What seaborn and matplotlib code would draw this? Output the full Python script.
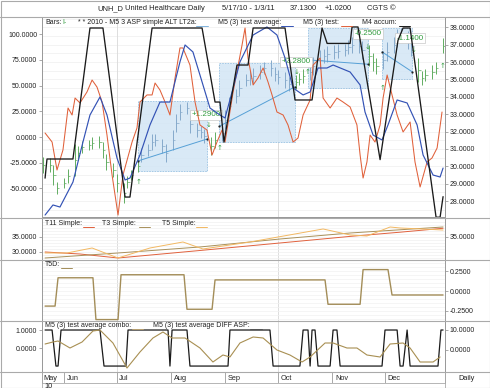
import numpy as np
import pandas as pd
import matplotlib
matplotlib.use("Agg")
import matplotlib.pyplot as plt
import matplotlib.dates as mdates
from matplotlib.patches import Rectangle
from matplotlib.lines import Line2D
from matplotlib.ticker import FormatStrFormatter
import seaborn as sns

sns.set_theme(style="white")
plt.rcParams["font.family"] = ["Liberation Sans", "DejaVu Sans"]
FS = 5.0

BASE = pd.Timestamp("2010-06-01")
def days(a):
    return BASE + pd.to_timedelta(np.atleast_1d(np.asarray(a, dtype=float)), unit="D")

# ---------------- data (x = day offsets from 2010-06-01) ----------------
# price bars (every second trading day)
bar_mid = [30.07, 30.07, 29.50, 28.75, 29.04, 29.44, 30.36, 30.77, 31.11, 31.23,
           31.34, 31.40, 30.94, 30.25, 29.79, 29.04, 28.46, 29.10, 29.50, 30.02,
           30.65, 30.94, 31.40, 31.52, 31.17, 30.77, 31.52, 32.50, 33.13, 33.36,
           32.44, 32.09, 31.98, 31.75, 31.17, 31.52, 31.92, 32.67, 33.48, 34.05,
           34.51, 34.97, 35.09, 35.20, 35.44, 35.67, 35.67, 35.32, 35.15, 34.97,
           34.74, 34.86, 35.03, 35.20, 35.44, 35.78, 36.13, 36.36, 36.47, 36.59,
           36.65, 36.70, 36.88, 36.99, 36.93, 36.70, 36.36, 36.01, 35.78, 36.13,
           36.59, 36.99, 37.39, 37.57, 37.28, 36.93, 35.55, 35.09, 35.26, 35.44,
           35.67, 36.95]
bar_rng = [0.9, 0.8, 1.1, 0.7, 0.6, 0.8, 1.8, 0.8, 0.7, 0.6,
           0.7, 0.7, 0.9, 0.9, 0.8, 1.0, 1.1, 0.7, 0.6, 0.7,
           0.8, 0.7, 0.9, 0.7, 0.8, 1.0, 1.2, 1.0, 0.9, 0.7,
           1.0, 0.8, 0.7, 0.8, 1.0, 0.9, 0.9, 1.1, 1.0, 0.8,
           0.9, 0.7, 0.8, 0.9, 0.8, 0.7, 0.9, 0.8, 0.8, 0.9,
           0.8, 0.8, 0.7, 0.8, 0.9, 1.0, 1.1, 0.8, 0.9, 0.8,
           0.8, 0.7, 0.8, 0.9, 0.8, 1.0, 1.2, 1.0, 0.9, 1.0,
           1.1, 0.9, 1.0, 0.8, 1.0, 1.2, 1.4, 0.8, 0.7, 0.8,
           0.7, 0.9]
bar_dates = pd.bdate_range("2010-05-20", "2011-01-03", freq="2B")

# regression boxes
box_start = [42.2, 88.4, 139.1, 181.3]
box_end = [81.5, 131.7, 173.3, 198.4]
box_lo = [29.73, 31.40, 34.51, 35.03]
box_hi = [33.76, 35.95, 37.97, 37.97]
trend_p0 = [30.31, 32.30, 36.13, 36.59]
trend_p1 = [31.57, 34.58, 35.88, 35.45]
box_text = ["+1.2900", "+2.2800", "-0.2500", "-1.1400"]
text_d = [81.0, 132.3, 173.3, 197.3]
text_p = [32.96, 36.01, 37.63, 37.39]
up_d = [42.2, 88.9, 139.1, 181.3, 215.5]
up_p = [29.1, 31.05, 35.44, 34.5, 35.8]
dn_d = [82.1, 132.3, 173.3, 199.0]
dn_p = [32.4, 35.44, 36.9, 36.7]

# M4 accum (black)
acc_d = [-10.8, -9.7, 5.1, 14.8, 22.2, 34.8, 37.6, 50.2, 78.7, 86.1, 88.9, 91.2, 98.6, 104.9, 107.8,
         126.0, 131.7, 141.4, 147.1, 150.0, 163.1, 164.2, 167.6, 180.2, 190.4, 193.3, 197.3, 212.1,
         214.4, 216.1]
acc_v = [-40, -21.4, -21.4, 106, 106, -58.4, -58.4, 106, 106, 34, 34, -5, 70, 70, 106,
         106, 36, 36, 106, 91, 91, 107, 107, -22, 94, 106, 106, -78, -78, -58]

# M5 (3) test average (blue)
avg_d = [-10.8, -6.3, -2.3, 5.1, 10.8, 14.8, 20.5, 24.5, 30.2, 34.8, 37.6, 43.3, 49.0, 54.7, 60.4,
         66.1, 69.0, 73.5, 77.5, 83.2, 88.9, 91.8, 95.8, 100.3, 107.8, 115.7, 121.4, 126.0, 130.6,
         136.3, 140.3, 144.8, 149.9, 153.4, 163.1, 168.8, 171.6, 176.2, 181.3, 184.7, 189.9, 195.6,
         201.3, 204.7, 210.4, 214.4, 216.1]
avg_v = [-75.9, -66.1, -68.1, -43.8, -4.9, 21.4, 38.9, 21.4, -20.4, -41.8, -39.9, -17.5, 11.7, 34.0,
         34.0, 73.0, 89.5, 82.7, 60.3, 28.2, 21.4, 18.5, 43.8, 73.0, 99.2, 107.0, 99.2, 76.8, 47.7,
         40.9, 43.8, 67.1, 67.1, 70.0, 63.2, 50.6, 24.3, 1.9, -2.9, 11.7, 36.0, 33.1, 11.7, -17.5,
         -37.0, -38.9, -30.2]

# M5 (3) test (red)
tst_d = [-10.8, -6.8, -4.0, -0.6, 2.3, 4.6, 6.3, 9.1, 13.1, 16.0, 18.8, 21.7, 24.5, 27.4, 30.8,
         33.6, 38.8, 41.6, 43.3, 47.3, 50.2, 51.9, 54.7, 57.6, 60.4, 63.3, 66.1, 67.8, 71.8, 74.7,
         77.5, 81.5, 84.4, 87.2, 90.1, 91.8, 96.4, 101.5, 103.2, 104.9, 107.8, 110.6, 113.5, 116.3,
         118.6, 121.4, 124.9, 127.7, 130.6, 133.4, 136.3, 140.3, 142.0, 146.0, 147.7, 151.7, 155.6,
         159.1, 163.1, 167.0, 168.8, 170.5, 172.7, 174.5, 177.3, 180.2, 181.9, 184.2, 187.0, 189.9,
         193.3, 197.3, 200.1, 203.0, 207.0, 209.8, 212.7, 215.5]
tst_v = [3.9, -4.9, -32.1, -12.6, 28.2, 21.4, 37.9, 33.1, 43.8, 55.4, 48.6, 34.0, 1.9, -37.0, -75.9,
         -37.0, -4.9, 8.8, 34.0, 40.9, 40.9, 52.5, 45.7, 34.0, 21.4, 57.4, 86.6, 86.6, 70.0, 34.0,
         11.7, 6.8, -17.5, -4.9, 6.8, -4.9, 43.8, 89.5, 106.0, 76.8, 50.6, 57.4, 67.1, 53.5,
         40.9, 24.3, 21.4, 11.7, -4.9, -1.0, 21.4, 36.0, 70.0, 76.8, 37.9, 28.2, 37.9,
         34.0, 29.2, 11.7, -17.5, -39.9, -24.3, 1.9, -4.9, 11.7, 37.9, 60.3, 40.9, 21.4,
         4.9, 14.6, -24.3, -48.6, -24.3, -20.4, -10.7, 24.3]

# T11 / T3 / T5 simple
t5_d = [-10.8, 1.7, 16.0, 30.8, 49.0, 67.8, 79.2, 106.0, 147.7, 163.1, 172.7, 185.9, 191.6, 216.1]
t5_v = [29.67, 29.67, 31.33, 28.0, 31.33, 33.33, 31.0, 33.33, 37.67, 35.67, 35.33, 38.33, 38.0, 37.33]
t11_d = [-10.8, 9.1, 30.8, 77.5, 123.1, 163.1, 191.6, 216.1]
t11_v = [30.0, 29.33, 28.0, 30.5, 33.0, 35.2, 36.6, 37.9]
t3_d = [-10.8, 30.8, 77.5, 123.1, 163.1, 216.1]
t3_v = [28.0, 29.67, 31.67, 34.33, 36.33, 38.33]

# T5D
t5d_d = [-10.8, -5.1, -3.4, 16.5, 18.2, 30.8, 32.5, 68.4, 70.1, 84.4, 86.1, 148.8, 150.5, 168.8,
         170.5, 184.7, 187.0, 216.1]
t5d_v = [-0.19, -0.19, 0.167, 0.167, -0.36, -0.36, 0.205, 0.205, -0.23, -0.23, 0.14, 0.14,
         -0.167, -0.167, 0.27, 0.27, -0.05, -0.05]

# combo (black) and DIFF ASP (olive)
cmb_d = [-10.8, -6.8, -4.6, -3.4, -1.7, 20.5, 22.8, 35.3, 36.5, 59.3, 60.4, 61.6, 70.1, 71.8, 93.5,
         94.6, 117.4, 119.2, 134.5, 136.3, 139.1, 140.3, 141.4, 143.1, 144.8, 151.7, 153.4, 155.6,
         157.4, 181.3, 183.0, 189.9, 191.6, 193.3, 195.6, 197.3, 213.2, 214.9, 216.1]
cmb_v = [1, 1, -1, -1, 1, 1, -1, -1, 1, 1, -1, 1, 1, -1, -1,
         1, 1, -1, -1, 1, 1, -1, 1, 1, -1, -1, 1, 1,
         -1, -1, 1, 1, -1, -1, 1, -1, -1, 1, 1]
dif_d = [-10.8, -6.3, -3.4, 3.4, 10.3, 16.5, 20.5, 27.9, 35.9, 43.3, 50.7, 56.4, 61.6, 69.0, 77.5,
         84.9, 90.6, 94.6, 100.3, 107.8, 113.5, 121.4, 128.8, 135.7, 140.3, 148.8, 153.4, 161.3,
         167.0, 172.7, 180.2, 185.9, 193.3, 197.3, 203.0, 210.4, 214.4]
dif_v = [3, 4, 4.5, 1, 4, 9.5, 10, 3.5, -9, -1, 6, 9, 6, 6, 1,
         -6, -2.5, -3.5, 3.5, 6.5, 6, 0, -2.5, -6, -3.5, 3.5, 3.5, 1,
         1, -2.5, -3.5, 3, 3.5, 1, -6, -6, -3.5]

months = ["May", "Jun", "Jul", "Aug", "Sep", "Oct", "Nov", "Dec"]

# ---------------- layout helpers ----------------
W, H = 490, 388
fig = plt.figure(figsize=(W / 100, H / 100), dpi=100)
fig.patch.set_facecolor("white")

def rect(x0, y0, x1, y1):
    return [x0 / W, 1 - y1 / H, (x1 - x0) / W, (y1 - y0) / H]

def ftext(x, y, s, **kw):
    kw.setdefault("fontsize", FS)
    kw.setdefault("va", "center")
    kw.setdefault("color", "#222222")
    fig.text(x / W, 1 - y / H, s, **kw)

def fline(x0, x1, y0, y1, color, lw=0.8):
    fig.add_artist(Line2D([x0 / W, x1 / W], [1 - y0 / H, 1 - y1 / H], color=color, lw=lw,
                          transform=fig.transFigure))

XL = (days(-12.55)[0], days(217.2)[0])
SPC = "#9a9a9a"
QUARTERS = days([30, 122])

def style(ax):
    ax.set_xlim(*XL)
    for s in ax.spines.values():
        s.set_color(SPC)
        s.set_linewidth(0.7)
    ax.tick_params(axis="both", length=2, width=0.5, color="#888888", labelsize=FS, pad=1.5,
                   labelcolor="#222222")
    ax.set_xticks([])
    ax.set_xlabel("")
    ax.set_ylabel("")

# ---------------- main panel ----------------
ax_p = fig.add_axes(rect(42, 17, 445, 217))
ax_o = ax_p.twinx()
ax_o.patch.set_visible(False)
style(ax_p); style(ax_o)
ax_p.set_ylim(27.08, 38.6)
ax_o.set_ylim(-77.8, 116.7)
ax_p.yaxis.tick_right()
ax_o.yaxis.tick_left()
ax_p.set_yticks(range(28, 39))
ax_o.set_yticks([-50, -25, 0, 25, 50, 75, 100])
ax_p.yaxis.set_major_formatter(FormatStrFormatter("%.4f"))
ax_o.yaxis.set_major_formatter(FormatStrFormatter("%.4f"))
for yv in np.arange(27.5, 38.6, 0.5):
    ax_p.axhline(yv, color="#eeeeee", lw=0.5, zorder=0)
for q in QUARTERS:
    ax_p.axvline(q, color="#dddddd", lw=0.7, zorder=0)

for s, e, lo, hi in zip(box_start, box_end, box_lo, box_hi):
    x0 = mdates.date2num(days(s)[0]); x1 = mdates.date2num(days(e)[0])
    ax_p.add_patch(Rectangle((x0, lo), x1 - x0, hi - lo, facecolor="#d3e6f5", alpha=0.85,
                             edgecolor="#8cbade", lw=0.6, ls=(0, (2, 1.2)), zorder=1))

in_box = np.zeros(len(bar_dates), bool)
for s, e in zip(box_start, box_end):
    in_box |= np.asarray((bar_dates >= days(s)[0]) & (bar_dates <= days(e)[0]))
bar_col = np.where(in_box, "#86aacb", "#62ad62")
mid = np.array(bar_mid); rng = np.array(bar_rng)
ax_p.vlines(bar_dates, mid - rng / 2, mid + rng / 2, colors=bar_col, lw=0.7, zorder=2)
ax_p.scatter(bar_dates, mid, marker=1, s=3, c=bar_col, lw=0.5, zorder=2)

for s, e, p0, p1 in zip(box_start, box_end, trend_p0, trend_p1):
    td = pd.DataFrame({"d": days([s, e]), "p": [p0, p1]})
    sns.lineplot(data=td, x="d", y="p", ax=ax_p, color="#56a0d6", lw=0.7, legend=False, zorder=3)
    ax_p.scatter(td["d"], td["p"], s=2.5, color="#222222", zorder=4, lw=0)
for t, d, p in zip(box_text, text_d, text_p):
    ax_p.text(days(d)[0], p, t, fontsize=FS + 0.8, color="#2f9a3c", ha="center", va="center",
              zorder=6, bbox=dict(fc="white", ec="#c8c8c8", lw=0.5, pad=1.2))
for d, p in zip(up_d, up_p):
    ax_p.text(days(d)[0], p, "\u2191", fontsize=5.0, color="#2f9a3c", ha="center", va="center",
              family=["DejaVu Sans"], zorder=5)
for d, p in zip(dn_d, dn_p):
    ax_p.text(days(d)[0], p, "\u2193", fontsize=5.0, color="#2f9a3c", ha="center", va="center",
              family=["DejaVu Sans"], zorder=5)
ax_p.set_xlim(*XL); ax_p.set_xticks([])
ax_p.set_xlabel(""); ax_p.set_ylabel("")

sns.lineplot(x=days(tst_d), y=tst_v, ax=ax_o, color="#e0603a", lw=0.75, legend=False,
             estimator=None, sort=False)
sns.lineplot(x=days(avg_d), y=avg_v, ax=ax_o, color="#3352b5", lw=0.85, legend=False,
             estimator=None, sort=False)
sns.lineplot(x=days(acc_d), y=acc_v, ax=ax_o, color="#1a1a1a", lw=0.95, legend=False,
             estimator=None, sort=False)
ax_o.set_xlim(*XL); ax_o.set_xticks([])
ax_o.set_xlabel(""); ax_o.set_ylabel("")

# ---------------- T11 / T3 / T5 panel ----------------
ax2 = fig.add_axes(rect(42, 218, 445, 260))
style(ax2)
ax2.set_ylim(27.33, 41.33)
ax2.set_yticks([30, 35])
ax2.yaxis.set_major_formatter(FormatStrFormatter("%.4f"))
for q in QUARTERS:
    ax2.axvline(q, color="#dddddd", lw=0.7, zorder=0)
for yv in np.arange(28, 41, 1.0):
    ax2.axhline(yv, color="#f0f0f0", lw=0.5, zorder=0)
sns.lineplot(x=days(t11_d), y=t11_v, ax=ax2, color="#e0603c", lw=0.7, legend=False, estimator=None)
sns.lineplot(x=days(t3_d), y=t3_v, ax=ax2, color="#a8905a", lw=0.7, legend=False, estimator=None)
sns.lineplot(x=days(t5_d), y=t5_v, ax=ax2, color="#f2b862", lw=0.7, legend=False, estimator=None)
ax2.set_xlim(*XL); ax2.set_xticks([]); ax2.set_xlabel(""); ax2.set_ylabel("")
ax2r = ax2.twinx(); style(ax2r)
ax2r.set_ylim(27.33, 41.33); ax2r.set_yticks([35])
ax2r.yaxis.set_major_formatter(FormatStrFormatter("%.4f"))

# ---------------- T5D panel ----------------
ax3 = fig.add_axes(rect(42, 260, 445, 321))
style(ax3)
ax3.set_ylim(-0.378, 0.391)
ax3.yaxis.tick_right()
ax3.set_yticks([0.25, 0.0, -0.25])
ax3.yaxis.set_major_formatter(FormatStrFormatter("%.4f"))
for q in QUARTERS:
    ax3.axvline(q, color="#dddddd", lw=0.7, zorder=0)
for yv in np.arange(-0.35, 0.4, 0.05):
    ax3.axhline(yv, color="#f2f2f2", lw=0.5, zorder=0)
sns.lineplot(x=days(t5d_d), y=t5d_v, ax=ax3, color="#a38d58", lw=1.0, legend=False,
             estimator=None, sort=False)
ax3.set_xlim(*XL); ax3.set_xticks([]); ax3.set_xlabel(""); ax3.set_ylabel("")

# ---------------- combo panel ----------------
ax4 = fig.add_axes(rect(42, 321, 445, 372))
style(ax4)
ax4.set_ylim(-1.33, 1.5)
ax4.set_yticks([1, 0])
ax4.yaxis.set_major_formatter(FormatStrFormatter("%.4f"))
for q in QUARTERS:
    ax4.axvline(q, color="#dddddd", lw=0.7, zorder=0)
sns.lineplot(x=days(cmb_d), y=cmb_v, ax=ax4, color="#1a1a1a", lw=0.9, legend=False,
             estimator=None, sort=False)
ax4.set_xticks(pd.date_range("2010-05-21", "2011-01-03", freq="W-FRI"))
ax4.tick_params(axis="x", direction="in", length=1.8, width=0.5, color="#888888", labelbottom=False)
ax4.set_xlim(*XL); ax4.set_xlabel(""); ax4.set_ylabel("")
ax4r = ax4.twinx(); style(ax4r)
ax4r.set_ylim(-11, 14.5); ax4r.set_yticks([10, 0])
ax4r.yaxis.set_major_formatter(FormatStrFormatter("%.4f"))
sns.lineplot(x=days(dif_d), y=dif_v, ax=ax4r, color="#a88f52", lw=0.8, legend=False,
             estimator=None, sort=False)
ax4r.set_xticks([]); ax4r.set_xlim(*XL); ax4r.set_xlabel(""); ax4r.set_ylabel("")

# ---------------- date axis ----------------
ax5 = fig.add_axes(rect(42, 372, 445, 383))
style(ax5)
ax5.set_ylim(0, 1); ax5.set_yticks([])
mstarts = pd.date_range("2010-06-01", periods=7, freq="MS")
ax5.text(XL[0] + pd.Timedelta(days=1), 0.45, months[0], fontsize=FS + 0.3, va="center")
for m, lab in zip(mstarts, months[1:]):
    ax5.axvline(m, color=SPC, lw=0.6)
    ax5.text(m + pd.Timedelta(days=1.5), 0.45, lab, fontsize=FS + 0.3, va="center")
ax5.spines["bottom"].set_visible(False)

# ---------------- frame, title, legends ----------------
for yy in [16.5, 217.5, 260, 321, 372]:
    fline(0, 490, yy, yy, "#aaaaaa", 0.8)
fline(42, 445, 383, 383, "#aaaaaa", 0.6)
fline(42, 42, 372, 388, "#aaaaaa", 0.6)
fline(445, 445, 372, 388, "#aaaaaa", 0.6)
fig.add_artist(Rectangle((0.5 / W, 0.5 / H), 1 - 1 / W, 1 - 1 / H, transform=fig.transFigure,
                         fill=False, ec="#aaaaaa", lw=0.8))
ftext(44, 386, "10", fontsize=FS + 0.3)
ftext(467, 379, "Daily", fontsize=FS + 0.3, ha="center")

TY = 8.5
TFS = FS + 0.4
ftext(97, TY, "UNH_D", fontsize=TFS)
ftext(125, TY, "United Healthcare Daily", fontsize=TFS)
ftext(222, TY, "5/17/10 - 1/3/11", fontsize=TFS)
ftext(290, TY, "37.1300", fontsize=TFS)
ftext(325, TY, "+1.0200", fontsize=TFS)
ftext(367, TY, "CGTS \u00a9", fontsize=TFS)

LY = 22.5
ftext(45, LY, "Bars:")
ftext(62, LY, "I-", color="#2f9a3c")
ftext(78, LY, "* * 2010 - M5 3 ASP simple ALT LT2a:")
fline(196, 208, LY + 3, LY + 3, "#7fb2dc", 0.7)
ftext(218, LY, "M5 (3) test average:")
fline(281, 293, LY + 3, LY + 3, "#3352b5", 0.7)
ftext(303, LY, "M5 (3) test:")
fline(341, 352, LY + 3, LY + 3, "#e0603a", 0.7)
ftext(362, LY, "M4 accum:")
fline(399, 410, LY + 3, LY + 3, "#1a1a1a", 0.7)

L2 = 223.5
ftext(45, L2, "T11 Simple:")
fline(83, 94, L2 + 3, L2 + 3, "#e0603c", 0.7)
ftext(102, L2, "T3 Simple:")
fline(139, 150, L2 + 3, L2 + 3, "#a8905a", 0.7)
ftext(162, L2, "T5 Simple:")
fline(196, 207, L2 + 3, L2 + 3, "#f2b862", 0.7)

L3 = 265
ftext(45, L3, "T5D:")
fline(61, 72, L3 + 3, L3 + 3, "#a38d58", 0.7)

L4 = 325.5
ftext(45, L4, "M5 (3) test average combo:")
fline(132, 143, L4 + 3, L4 + 3, "#b8a070", 0.7)
ftext(153, L4, "M5 (3) test average DIFF ASP:")
fline(250, 262, L4 + 3, L4 + 3, "#555555", 0.7)

fig.savefig("out.png", dpi=100)
